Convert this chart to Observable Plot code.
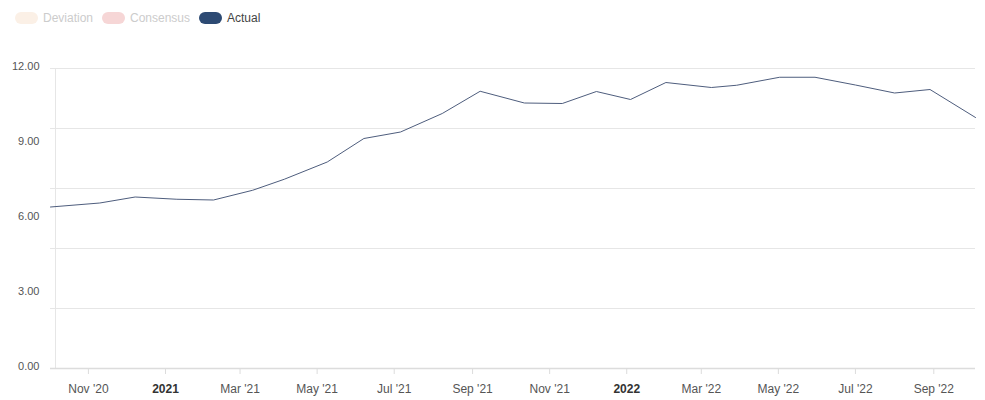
<!DOCTYPE html>
<html><head><meta charset="utf-8">
<script src="https://cdn.jsdelivr.net/npm/d3@7"></script>
<script src="https://cdn.jsdelivr.net/npm/@observablehq/plot@0.6"></script>
<style>
body{margin:0;background:#fff;font-family:"Liberation Sans",Arial,sans-serif;}
#legend{height:40px;position:relative;font-size:12px;}
.item{position:absolute;top:12px;height:12px;display:flex;align-items:center;white-space:nowrap;}
.pill{width:23px;height:12px;border-radius:6px;margin-right:5px;flex:none;}
#chart svg{display:block;}
</style></head><body>
<div id="legend"></div>
<div id="chart"></div>
<script>
// ---- data ----
const dates = ["2020-10-02","2020-11-10","2020-12-08","2021-01-10","2021-02-08","2021-03-11",
  "2021-04-05","2021-05-09","2021-06-07","2021-07-06","2021-08-08","2021-09-07",
  "2021-10-12","2021-11-11","2021-12-08","2022-01-04","2022-02-01","2022-03-09",
  "2022-03-29","2022-05-02","2022-05-30","2022-07-01","2022-08-01","2022-08-29","2022-10-04"];
const actual = [6.46,6.62,6.86,6.77,6.74,7.13,
  7.57,8.26,9.20,9.46,10.20,11.09,
  10.62,10.60,11.08,10.76,11.44,11.24,
  11.33,11.65,11.65,11.34,11.02,11.16,10.04];
const yTicks = [0,3,6,9,12];
const gridValues = [0,2.4,4.8,7.2,9.6,12];
const xTicks = ["2020-11-01","2021-01-01","2021-03-01","2021-05-01","2021-07-01","2021-09-01",
  "2021-11-01","2022-01-01","2022-03-01","2022-05-01","2022-07-01","2022-09-01"];
const legendNames = ["Deviation","Consensus","Actual"];
const legendColors = ["#fbf0e6","#f6d6d6","#2d4a73"];
const legendTextColors = ["#cccccc","#cccccc","#444444"];
const legendLeft = [15,102,199];

// ---- legend ----
const leg = document.getElementById("legend");
legendNames.forEach((n,i)=>{
  const it = document.createElement("div");
  it.className="item"; it.style.left=legendLeft[i]+"px";
  const p = document.createElement("div"); p.className="pill"; p.style.background=legendColors[i];
  const t = document.createElement("span"); t.textContent=n; t.style.color=legendTextColors[i];
  it.appendChild(p); it.appendChild(t); leg.appendChild(it);
});

// ---- chart ----
const data = dates.map((d,i)=>({date:new Date(d), value:actual[i]}));
const tickDates = xTicks.map(d=>new Date(d));
const janTicks = tickDates.filter(d=>d.getUTCMonth()===0);
const otherTicks = tickDates.filter(d=>d.getUTCMonth()!==0);
const fmt = d3.utcFormat("%b '%y");

const chart = Plot.plot({
  width:985, height:360,
  marginTop:28, marginBottom:32, marginLeft:50, marginRight:10,
  x:{type:"utc", domain:[data[0].date, data[data.length-1].date]},
  y:{domain:[0,12]},
  style:{fontFamily:"'Liberation Sans', Arial, sans-serif", fontSize:"11px", background:"#fff"},
  marks:[
    Plot.ruleY(gridValues,{stroke:"#e6e6e6"}),
    Plot.ruleX([data[0].date],{y1:0,y2:12,stroke:"#e6e6e6",dx:5}),
    Plot.ruleY([0],{stroke:"#dcdcdc",strokeWidth:1.5}),
    Plot.axisY({ticks:yTicks, tickSize:0, tickPadding:11, tickFormat:d3.format(".2f"), label:null, dy:-2, fill:"#555"}),
    Plot.axisX(otherTicks,{tickSize:6, tickPadding:10, tickFormat:fmt, label:null, stroke:"#dcdcdc", fill:"#555", fontSize:12}),
    Plot.axisX(janTicks,{tickSize:6, tickPadding:10, tickFormat:d=>String(d.getUTCFullYear()), label:null, stroke:"#dcdcdc", fill:"#333", fontWeight:"bold", fontSize:12}),
    Plot.line(data,{x:"date",y:"value",stroke:"#4e5d7d",strokeWidth:1})
  ]
});
document.getElementById("chart").appendChild(chart);
</script>
</body></html>
